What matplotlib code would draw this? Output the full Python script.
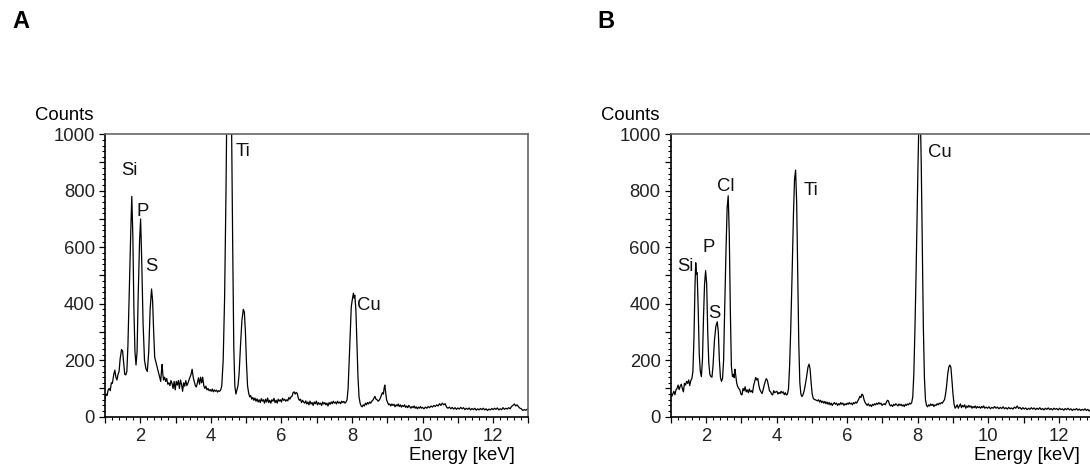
import matplotlib
matplotlib.use("Agg")
from matplotlib import pyplot as plt
from matplotlib.ticker import MultipleLocator, FuncFormatter

plt.rcParams['font.family'] = ['Liberation Sans', 'DejaVu Sans']

# ---- spectrum A (energy keV, counts) ----
energy_a = [1.00, 1.03, 1.06, 1.09, 1.12, 1.15, 1.18, 1.21, 1.25, 1.28, 1.31, 1.34, 1.37, 1.40, 1.43, 1.47,
            1.50, 1.53, 1.56, 1.59, 1.62, 1.65, 1.69, 1.73, 1.76, 1.79, 1.82, 1.85, 1.88, 1.91, 1.94, 1.98,
            2.01, 2.04, 2.08, 2.12, 2.16, 2.20, 2.24, 2.28, 2.32, 2.35, 2.38, 2.41, 2.44, 2.47, 2.50, 2.53,
            2.56, 2.58, 2.60, 2.62, 2.64, 2.66, 2.69, 2.72, 2.75, 2.78, 2.81, 2.84, 2.87, 2.90, 2.93, 2.96,
            2.99, 3.02, 3.05, 3.08, 3.11, 3.14, 3.17, 3.20, 3.23, 3.26, 3.29, 3.32, 3.35, 3.38, 3.41, 3.44,
            3.47, 3.50, 3.53, 3.56, 3.59, 3.62, 3.65, 3.68, 3.71, 3.74, 3.77, 3.80, 3.83, 3.86, 3.89, 3.92,
            3.95, 3.98, 4.01, 4.04, 4.07, 4.10, 4.13, 4.16, 4.19, 4.22, 4.25, 4.28, 4.31, 4.35, 4.39, 4.43,
            4.47, 4.51, 4.55, 4.59, 4.62, 4.65, 4.68, 4.71, 4.74, 4.77, 4.80, 4.84, 4.88, 4.92, 4.95, 4.98,
            5.01, 5.04, 5.07, 5.10, 5.13, 5.16, 5.19, 5.22, 5.25, 5.28, 5.31, 5.34, 5.37, 5.40, 5.43, 5.46,
            5.49, 5.52, 5.55, 5.58, 5.61, 5.64, 5.67, 5.70, 5.73, 5.76, 5.79, 5.82, 5.85, 5.88, 5.91, 5.94,
            5.97, 6.00, 6.03, 6.06, 6.09, 6.12, 6.15, 6.18, 6.21, 6.24, 6.27, 6.30, 6.33, 6.36, 6.39, 6.42,
            6.45, 6.48, 6.51, 6.54, 6.57, 6.60, 6.63, 6.66, 6.69, 6.72, 6.75, 6.78, 6.81, 6.84, 6.87, 6.90,
            6.93, 6.96, 6.99, 7.02, 7.05, 7.08, 7.11, 7.14, 7.17, 7.20, 7.23, 7.26, 7.29, 7.32, 7.35, 7.38,
            7.41, 7.44, 7.47, 7.50, 7.53, 7.56, 7.59, 7.62, 7.65, 7.68, 7.71, 7.74, 7.77, 7.80, 7.83, 7.86,
            7.89, 7.92, 7.95, 7.98, 8.01, 8.04, 8.06, 8.08, 8.11, 8.14, 8.17, 8.20, 8.23, 8.26, 8.29, 8.32,
            8.35, 8.38, 8.41, 8.44, 8.47, 8.50, 8.53, 8.56, 8.59, 8.62, 8.65, 8.68, 8.71, 8.74, 8.77, 8.80,
            8.83, 8.86, 8.89, 8.91, 8.93, 8.95, 8.98, 9.01, 9.04, 9.07, 9.10, 9.13, 9.16, 9.19, 9.22, 9.25,
            9.28, 9.31, 9.34, 9.37, 9.40, 9.43, 9.46, 9.49, 9.52, 9.55, 9.58, 9.61, 9.64, 9.67, 9.70, 9.73,
            9.76, 9.79, 9.82, 9.85, 9.88, 9.91, 9.94, 9.97, 10.00, 10.04, 10.08, 10.12, 10.16, 10.20, 10.24,
            10.28, 10.32, 10.36, 10.40, 10.44, 10.48, 10.52, 10.56, 10.60, 10.64, 10.68, 10.72, 10.76, 10.80,
            10.84, 10.88, 10.92, 10.96, 11.00, 11.04, 11.08, 11.12, 11.16, 11.20, 11.24, 11.28, 11.32, 11.36,
            11.40, 11.44, 11.48, 11.52, 11.56, 11.60, 11.64, 11.68, 11.72, 11.76, 11.80, 11.84, 11.88, 11.92,
            11.96, 12.00, 12.04, 12.08, 12.12, 12.16, 12.20, 12.24, 12.28, 12.32, 12.36, 12.40, 12.44, 12.48,
            12.52, 12.56, 12.60, 12.64, 12.68, 12.72, 12.76, 12.80, 12.84, 12.88, 12.92, 12.96, 13.00]
counts_a = [65, 80, 75, 95, 100, 92, 120, 118, 150, 165, 140, 130, 150, 160, 205, 238,
            232, 190, 150, 148, 160, 250, 450, 650, 780, 640, 380, 230, 183, 230, 420, 620,
            700, 560, 330, 200, 170, 160, 230, 380, 452, 410, 300, 210, 195, 180, 165, 150,
            135, 125, 160, 185, 150, 130, 140, 125, 135, 115, 120, 110, 128, 118, 100, 125,
            95, 125, 112, 128, 100, 130, 115, 90, 120, 108, 128, 110, 118, 130, 140, 150,
            168, 140, 125, 110, 105, 120, 138, 115, 140, 120, 140, 110, 100, 108, 95, 100,
            92, 96, 90, 98, 88, 95, 90, 94, 87, 92, 90, 95, 110, 200, 420, 800,
            1300, 1500, 1400, 1000, 600, 250, 110, 80, 95, 110, 150, 250, 340, 380, 370, 300,
            190, 110, 85, 70, 75, 62, 68, 58, 66, 55, 63, 52, 60, 50, 64, 55,
            60, 48, 62, 52, 66, 50, 58, 48, 60, 55, 65, 50, 58, 48, 62, 55,
            60, 52, 65, 58, 62, 55, 60, 56, 68, 62, 70, 72, 85, 88, 80, 86,
            82, 65, 58, 62, 50, 58, 52, 48, 56, 45, 52, 42, 55, 45, 50, 40,
            52, 46, 55, 42, 50, 44, 48, 40, 52, 45, 50, 42, 48, 38, 50, 44,
            52, 46, 55, 48, 52, 45, 55, 48, 52, 46, 55, 50, 54, 48, 52, 60,
            100, 200, 300, 390, 415, 437, 420, 430, 380, 260, 140, 70, 48, 38, 35, 42,
            38, 48, 42, 50, 45, 52, 48, 55, 58, 65, 72, 62, 60, 55, 58, 65,
            75, 85, 80, 100, 112, 90, 60, 50, 42, 45, 38, 45, 40, 44, 35, 42,
            38, 45, 36, 42, 34, 40, 36, 42, 33, 38, 32, 40, 35, 30, 36, 32,
            38, 30, 35, 28, 34, 30, 36, 30, 33, 28, 34, 30, 36, 32, 38,
            34, 40, 36, 42, 38, 46, 40, 48, 42, 46, 34, 30, 34, 28,
            33, 27, 32, 26, 31, 27, 33, 28, 32, 25, 30, 26, 31, 24,
            29, 25, 30, 23, 28, 24, 29, 25, 30, 24, 28, 22, 27, 24,
            29, 25, 30, 26, 31, 24, 28, 25, 32, 26, 30, 27, 32, 28,
            36, 40, 45, 38, 42, 35, 30, 28, 22, 25, 23, 26, 28]

# ---- spectrum B ----
energy_b = [1.00, 1.03, 1.06, 1.09, 1.12, 1.15, 1.18, 1.21, 1.24, 1.27, 1.30, 1.33, 1.36, 1.39, 1.42, 1.45,
            1.48, 1.51, 1.54, 1.57, 1.60, 1.63, 1.66, 1.69, 1.71, 1.73, 1.75, 1.78, 1.81, 1.84, 1.87, 1.90,
            1.93, 1.96, 1.99, 2.02, 2.05, 2.08, 2.11, 2.14, 2.17, 2.20, 2.24, 2.28, 2.32, 2.35, 2.38, 2.41,
            2.44, 2.47, 2.50, 2.53, 2.57, 2.60, 2.63, 2.66, 2.69, 2.72, 2.75, 2.78, 2.80, 2.82, 2.84, 2.87,
            2.90, 2.93, 2.96, 2.99, 3.02, 3.05, 3.08, 3.11, 3.14, 3.17, 3.20, 3.23, 3.26, 3.29, 3.32, 3.35,
            3.38, 3.41, 3.44, 3.47, 3.50, 3.53, 3.56, 3.59, 3.62, 3.65, 3.68, 3.71, 3.74, 3.77, 3.80, 3.83,
            3.86, 3.89, 3.92, 3.95, 3.98, 4.01, 4.04, 4.07, 4.10, 4.13, 4.16, 4.19, 4.22, 4.25, 4.28, 4.31,
            4.34, 4.37, 4.40, 4.44, 4.48, 4.51, 4.54, 4.57, 4.60, 4.63, 4.66, 4.69, 4.72, 4.75, 4.78, 4.81,
            4.85, 4.89, 4.92, 4.95, 4.98, 5.01, 5.04, 5.07, 5.10, 5.13, 5.16, 5.19, 5.22, 5.25, 5.28, 5.31,
            5.34, 5.37, 5.40, 5.43, 5.46, 5.49, 5.52, 5.55, 5.58, 5.61, 5.64, 5.67, 5.70, 5.73, 5.76, 5.79,
            5.82, 5.85, 5.88, 5.91, 5.94, 5.97, 6.00, 6.03, 6.06, 6.09, 6.12, 6.15, 6.18, 6.21, 6.24, 6.27,
            6.30, 6.33, 6.36, 6.39, 6.42, 6.45, 6.48, 6.51, 6.54, 6.57, 6.60, 6.63, 6.66, 6.69, 6.72, 6.75,
            6.78, 6.81, 6.84, 6.87, 6.90, 6.93, 6.96, 6.99, 7.02, 7.05, 7.08, 7.11, 7.14, 7.17, 7.20, 7.23,
            7.26, 7.29, 7.32, 7.35, 7.38, 7.41, 7.44, 7.47, 7.50, 7.53, 7.56, 7.59, 7.62, 7.65, 7.68, 7.71,
            7.74, 7.77, 7.80, 7.83, 7.86, 7.89, 7.92, 7.95, 7.98, 8.01, 8.04, 8.07, 8.10, 8.13, 8.16, 8.19,
            8.22, 8.25, 8.28, 8.31, 8.34, 8.37, 8.40, 8.43, 8.46, 8.49, 8.52, 8.55, 8.58, 8.61, 8.64, 8.67,
            8.70, 8.73, 8.76, 8.79, 8.82, 8.85, 8.88, 8.91, 8.94, 8.97, 9.00, 9.03, 9.06, 9.09, 9.12, 9.15,
            9.18, 9.21, 9.24, 9.27, 9.30, 9.33, 9.36, 9.39, 9.42, 9.45, 9.48, 9.51, 9.54, 9.57, 9.60, 9.63,
            9.66, 9.69, 9.72, 9.75, 9.78, 9.81, 9.84, 9.87, 9.90, 9.94, 9.98, 10.02, 10.06, 10.10, 10.14,
            10.18, 10.22, 10.26, 10.30, 10.34, 10.38, 10.42, 10.46, 10.50, 10.54, 10.58, 10.62, 10.66, 10.70,
            10.74, 10.78, 10.82, 10.86, 10.90, 10.94, 10.98, 11.02, 11.06, 11.10, 11.14, 11.18, 11.22, 11.26,
            11.30, 11.34, 11.38, 11.42, 11.46, 11.50, 11.54, 11.58, 11.62, 11.66, 11.70, 11.74, 11.78, 11.82,
            11.86, 11.90, 11.94, 11.98, 12.02, 12.06, 12.10, 12.14, 12.18, 12.22, 12.26, 12.30, 12.34, 12.38,
            12.42, 12.46, 12.50, 12.54, 12.58, 12.62, 12.66, 12.70, 12.74, 12.78, 12.82, 12.86, 12.90, 12.94,
            12.98, 13.00]
counts_b = [85, 72, 80, 90, 78, 95, 100, 112, 96, 108, 115, 100, 88, 118, 112, 125,
            118, 130, 110, 128, 135, 160, 280, 470, 545, 505, 510, 380, 220, 160, 142, 200,
            350, 470, 517, 470, 300, 190, 150, 142, 140, 180, 270, 320, 336, 300, 200, 140,
            125, 135, 200, 380, 600, 740, 782, 650, 380, 180, 142, 150, 138, 168, 150, 120,
            106, 100, 95, 80, 77, 100, 92, 106, 88, 95, 85, 98, 88, 92, 85, 110,
            125, 139, 130, 135, 110, 95, 88, 82, 95, 112, 125, 135, 128, 110, 92, 88,
            80, 77, 92, 85, 88, 90, 80, 86, 82, 90, 84, 88, 78, 85, 77, 80,
            100, 180, 300, 500, 720, 840, 873, 760, 500, 260, 120, 80, 71, 78, 90, 110,
            140, 175, 186, 170, 120, 80, 65, 61, 60, 58, 56, 60, 52, 58, 50, 55,
            48, 54, 46, 52, 44, 50, 42, 48, 40, 46, 50, 44, 48, 40, 46, 42,
            50, 44, 48, 40, 46, 42, 48, 44, 50, 45, 48, 42, 50, 46, 52, 48,
            56, 62, 72, 68, 80, 76, 60, 50, 45, 40, 46, 38, 42, 36, 44, 40,
            46, 42, 48, 44, 50, 45, 48, 40, 44, 46, 42, 50, 58, 56, 44, 38,
            42, 36, 44, 40, 46, 42, 38, 45, 40, 44, 38, 42, 36, 44, 40, 45,
            42, 48, 45, 50, 70, 150, 300, 480, 700, 900, 1080, 1100, 900, 600, 320, 140,
            60, 40, 35, 42, 38, 45, 40, 44, 36, 42, 40, 46, 42, 48, 45, 50,
            48, 55, 60, 80, 110, 150, 175, 183, 175, 130, 80, 45, 30, 35, 42, 30,
            38, 45, 32, 40, 35, 42, 30, 38, 33, 40, 34, 38, 30, 36, 32, 38,
            30, 36, 32, 35, 30, 36, 32, 38, 30, 34, 30, 35, 28, 33, 30,
            36, 30, 34, 28, 33, 29, 35, 28, 32, 27, 33, 28, 31, 27,
            34, 30, 38, 29, 33, 26, 32, 27, 31, 25, 30, 26, 32, 27,
            31, 25, 30, 26, 32, 25, 29, 24, 30, 26, 31, 25, 29, 24,
            30, 26, 29, 24, 30, 25, 28, 23, 29, 25, 30, 24, 28, 22,
            27, 24, 29, 23, 27, 22, 26, 23, 28, 22, 26, 20, 25, 22,
            25, 24]

# peak labels: (text, left energy, centre counts)
labels_a = [("Si", 1.47, 870), ("P", 1.90, 728), ("S", 2.13, 532), ("Ti", 4.70, 939), ("Cu", 8.13, 394)]
labels_b = [("Si", 1.19, 531), ("P", 1.91, 600), ("S", 2.07, 364), ("Cl", 2.31, 816), ("Ti", 4.76, 800), ("Cu", 8.28, 936)]

fs = 13.3

fig = plt.figure(figsize=(10.9, 4.7), dpi=100)
ax_a = fig.add_axes([0.0963, 0.1134, 0.3885, 0.601])
ax_b = fig.add_axes([0.6153, 0.1134, 0.3885, 0.601])

even_only = FuncFormatter(lambda v, p: "%d" % v if abs(v - round(v)) < 1e-6 and int(round(v)) % 2 == 0 else "")
y_labels = FuncFormatter(lambda v, p: "%d" % v if int(round(v)) % 200 == 0 else "")

for ax, en, ct, labs in [(ax_a, energy_a, counts_a, labels_a), (ax_b, energy_b, counts_b, labels_b)]:
    ax.plot(en, ct, color='black', lw=0.9)
    ax.set_xlim(1, 13)
    ax.set_ylim(0, 1000)
    ax.xaxis.set_major_locator(MultipleLocator(1))
    ax.xaxis.set_minor_locator(MultipleLocator(0.2))
    ax.xaxis.set_major_formatter(even_only)
    ax.yaxis.set_major_locator(MultipleLocator(100))
    ax.yaxis.set_minor_locator(MultipleLocator(20))
    ax.yaxis.set_major_formatter(y_labels)
    ax.tick_params(which='major', direction='out', length=4.3, width=0.9, labelsize=fs,
                   colors='black', labelcolor='#222222')
    ax.tick_params(axis='x', which='major', pad=4)
    ax.tick_params(axis='y', which='major', pad=3)
    ax.tick_params(which='minor', direction='out', length=2.2, width=0.8, colors='black')
    for side in ['left', 'bottom']:
        ax.spines[side].set_color('black')
        ax.spines[side].set_linewidth(1.2)
    for side in ['top', 'right']:
        ax.spines[side].set_color('#666666')
        ax.spines[side].set_linewidth(1.2)
    for txt, x, y in labs:
        ax.text(x, y, txt, fontsize=fs, ha='left', va='center', color='#111111')
    ax.text(-0.026, 1.035, "Counts", transform=ax.transAxes, fontsize=fs, ha='right', va='bottom')
    ax.text(0.967, -0.106, "Energy [keV]", transform=ax.transAxes, fontsize=fs, ha='right', va='top')

fig.text(0.011, 0.979, "A", fontsize=17, fontweight='bold', ha='left', va='top')
fig.text(0.548, 0.979, "B", fontsize=17, fontweight='bold', ha='left', va='top')

fig.savefig("out.png", dpi=100)
